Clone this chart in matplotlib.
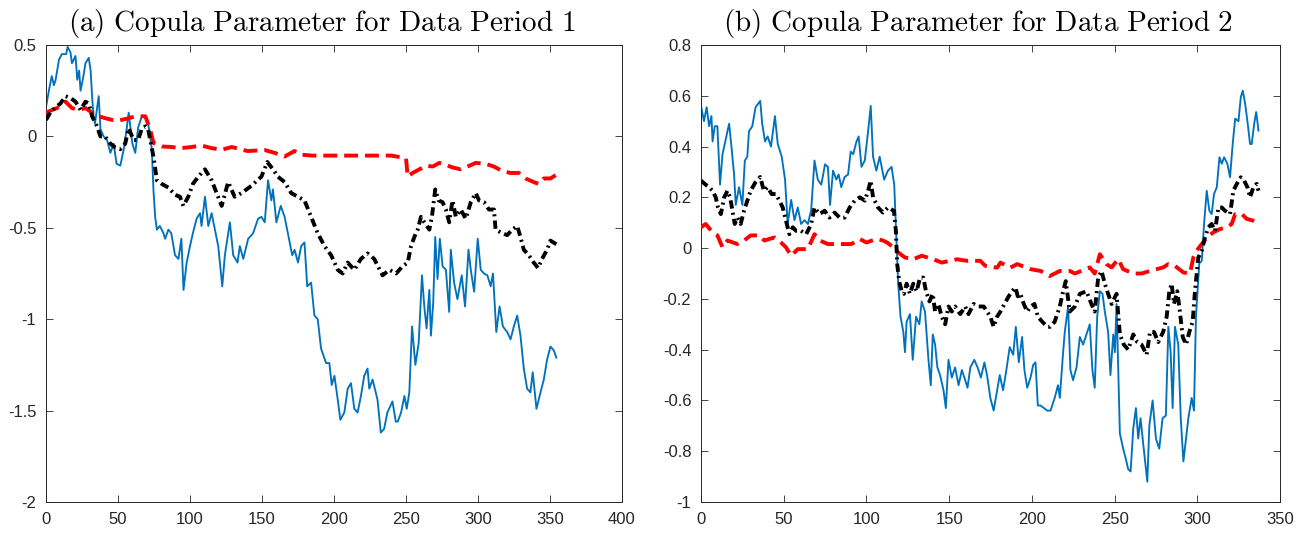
import matplotlib
matplotlib.use("Agg")
import matplotlib.pyplot as plt

plt.rcParams['font.family'] = ['Liberation Sans', 'DejaVu Sans']
plt.rcParams['mathtext.fontset'] = 'cm'
plt.rcParams['lines.scale_dashes'] = False

# ---------------- Data Period 1 ----------------
p1_blue_t = [0, 2, 4, 5.5, 6.7, 9, 11, 14, 15, 17, 18, 20.5, 21.7, 23, 24, 26, 27.4, 29.7, 31, 32, 33, 34,
             36.6, 37.8, 40, 42.4, 44.7, 47, 49, 51.6, 54, 56, 57.4, 60, 62, 64, 66.6, 69, 71, 73.5, 74.6,
             75.8, 77, 79, 81.6, 82.7, 85, 87, 89.6, 92, 94, 95.5, 97.7, 100, 102, 104.6, 107, 108, 110.4,
             112.7, 115, 117.3, 119.6, 122.4, 124.2, 127.7, 130, 133, 134.6, 137, 140.4, 143.8, 147.3, 149.6,
             151.9, 154.2, 156.5, 157.6, 160, 163, 165.7, 168, 171, 172.6, 175, 177.2, 179.5, 181.4, 184.1,
             186.4, 188.7, 191, 194.5, 196.8, 198.4, 200.3, 202.6, 204.4, 207.2, 209.5, 211.8, 214.1, 216.4,
             218.7, 221, 223.3, 224.5, 226.8, 230.2, 232.5, 234.8, 237.1, 240.6, 242.9, 244.3, 246.6, 248.9,
             250.5, 252.3, 254.2, 256.5, 258.8, 261.1, 262.7, 264.3, 266.2, 267.3, 268.9, 270.3, 271.9, 273.5,
             275.4, 277.7, 280, 281.1, 283.4, 285.7, 288.7, 291, 293.4, 295, 297.3, 299.8, 301.9, 304.2, 306.5,
             308.8, 310.4, 312.7, 315, 317.3, 320.3, 322.6, 324.9, 327.2, 329.5, 331.8, 334.1, 336.4, 338,
             340.6, 343.4, 345.7, 348, 350.3, 352.6, 354.4]
p1_blue_v = [0.16, 0.25, 0.33, 0.28, 0.31, 0.42, 0.45, 0.45, 0.49, 0.46, 0.40, 0.44, 0.31, 0.36, 0.25, 0.33, 0.40,
             0.43, 0.36, 0.22, 0.11, 0.07, 0.22, 0.04, 0.0, -0.02, -0.09, -0.04, -0.15, -0.16, -0.07, 0.04,
             0.13, -0.04, -0.09, 0.05, 0.11, 0.11, 0.07, -0.07, -0.29, -0.44, -0.51, -0.49, -0.53, -0.56,
             -0.51, -0.53, -0.65, -0.67, -0.56, -0.84, -0.69, -0.60, -0.53, -0.45, -0.42, -0.49, -0.33, -0.49,
             -0.42, -0.51, -0.60, -0.82, -0.65, -0.47, -0.65, -0.69, -0.60, -0.67, -0.56, -0.53, -0.45, -0.44,
             -0.47, -0.24, -0.35, -0.29, -0.47, -0.38, -0.44, -0.53, -0.65, -0.62, -0.69, -0.60, -0.58, -0.82,
             -0.80, -0.98, -1.00, -1.16, -1.24, -1.24, -1.36, -1.31, -1.44, -1.55, -1.51, -1.38, -1.35, -1.49,
             -1.51, -1.42, -1.31, -1.27, -1.38, -1.33, -1.44, -1.62, -1.60, -1.51, -1.45, -1.56, -1.56, -1.51,
             -1.42, -1.49, -1.40, -1.04, -1.25, -1.13, -0.76, -0.93, -1.05, -0.84, -1.09, -0.91, -0.55, -0.78,
             -0.56, -0.71, -0.73, -0.96, -0.62, -0.80, -0.89, -0.76, -0.93, -0.62, -0.73, -0.85, -0.56, -0.73,
             -0.75, -0.76, -0.82, -0.75, -1.07, -0.93, -1.04, -1.07, -1.11, -1.04, -0.98, -1.09, -1.27, -1.38,
             -1.40, -1.29, -1.49, -1.40, -1.33, -1.22, -1.15, -1.17, -1.21]

p1_black_t = [0, 3, 6.7, 10, 13.6, 17, 20.5, 24, 27.4, 29.7, 32, 35.5, 37.8, 41, 44.7, 48, 51.6, 55, 57.4, 60.8,
              64, 66.6, 69, 71, 74.6, 77, 80.4, 85, 89.6, 93, 95.4, 98.8, 102, 105.8, 110.4, 115, 118.5, 122,
              126.5, 131, 135.8, 142.7, 149.6, 153.7, 157.6, 161, 165.7, 170.3, 174.9, 179.5, 184.1, 188.7,
              193.4, 198, 202.6, 206, 209.5, 214.1, 218.7, 223.3, 227.9, 233.7, 238.5, 243.1, 247.7, 251.2,
              253.5, 255.8, 258.1, 260.4, 262.7, 266.2, 268, 270.3, 272.6, 275.4, 277.7, 280, 282.3, 284.6,
              288, 291.5, 295, 298.4, 300.7, 304.2, 307.6, 311.1, 312.2, 316.9, 320.3, 323.8, 327.2, 329.5,
              331.8, 335.3, 338.7, 341.7, 344.5, 348, 350.3, 354.4]
p1_black_v = [0.09, 0.13, 0.16, 0.18, 0.22, 0.21, 0.19, 0.145, 0.19, 0.18, 0.11, 0.055, 0.0, 0.0, -0.04, -0.06,
              -0.07, -0.04, 0.045, -0.02, -0.02, 0.045, 0.055, 0.036, -0.11, -0.24, -0.26, -0.28, -0.32, -0.33,
              -0.38, -0.33, -0.26, -0.22, -0.18, -0.24, -0.31, -0.38, -0.25, -0.33, -0.31, -0.27, -0.22, -0.14,
              -0.18, -0.22, -0.25, -0.31, -0.33, -0.35, -0.44, -0.53, -0.60, -0.65, -0.73, -0.75, -0.69, -0.73,
              -0.67, -0.64, -0.67, -0.76, -0.73, -0.75, -0.71, -0.69, -0.60, -0.55, -0.51, -0.44, -0.47, -0.51,
              -0.44, -0.29, -0.35, -0.36, -0.40, -0.47, -0.35, -0.44, -0.40, -0.45, -0.36, -0.31, -0.35, -0.36,
              -0.40, -0.40, -0.51, -0.53, -0.54, -0.51, -0.49, -0.55, -0.62, -0.65, -0.69, -0.72, -0.67, -0.62,
              -0.57, -0.59]

p1_red_t = [0, 4.4, 9, 13.6, 18, 23, 27.4, 32, 36.6, 41, 46, 50.5, 55, 60, 64, 69, 72.4, 74.6, 80.4, 87, 94,
            101, 108, 115, 122, 129, 140, 152, 158.8, 165.7, 172.6, 177, 185, 200, 220, 240, 250, 251.2, 254.6,
            259.3, 263.9, 268.5, 273.1, 277.7, 282.3, 288, 292.7, 298.4, 305.3, 311.1, 316.9, 322.6, 328.4, 333,
            338.7, 342.2, 345.7, 350.3, 354.4]
p1_red_v = [0.13, 0.145, 0.16, 0.19, 0.155, 0.145, 0.155, 0.13, 0.11, 0.10, 0.09, 0.087, 0.095, 0.105, 0.11, 0.11,
            0.036, -0.036, -0.055, -0.058, -0.064, -0.058, -0.05, -0.064, -0.073, -0.058, -0.08, -0.075, -0.09,
            -0.11, -0.08, -0.10, -0.105, -0.105, -0.105, -0.105, -0.12, -0.22, -0.20, -0.18, -0.16, -0.165,
            -0.145, -0.155, -0.17, -0.18, -0.165, -0.145, -0.15, -0.165, -0.19, -0.20, -0.20, -0.23, -0.25,
            -0.26, -0.23, -0.23, -0.21]

# ---------------- Data Period 2 ----------------
p2_blue_t = [0, 1.8, 3.4, 4.9, 6.3, 7, 8.3, 9.9, 11.5, 13, 15, 17, 18.4, 20, 21, 23, 25, 26.5, 28, 29, 31, 33,
             35.8, 37, 38.7, 40.3, 42.3, 44.7, 46.4, 48.8, 50.8, 52.4, 54.5, 56.5, 58.5, 60.5, 62.6, 64.6, 66.6,
             68.6, 70.6, 72.7, 75, 76.7, 78, 79.8, 81.8, 83.2, 84.8, 86.8, 88.9, 90.5, 92, 94, 95.3, 97, 99, 101,
             102.6, 104, 106, 108, 110.7, 113, 115.2, 116.8, 118.2, 119.2, 120.6, 122.3, 123.3, 124.3, 126.3,
             128, 130, 132, 133.4, 135.4, 137.5, 138.9, 140.1, 141.5, 142.9, 144.5, 146.6, 148, 149.6, 151.6,
             153.6, 155.7, 157.7, 159.7, 161.1, 162.8, 165.2, 167.2, 169.2, 171.3, 172.9, 174.9, 176.9, 179,
             180.6, 182.6, 184.6, 186.6, 188.7, 190.3, 192.1, 194.1, 195.5, 197.2, 199.2, 200.8, 202.2, 203.6,
             205.3, 207.3, 209.3, 211.3, 213.8, 215.8, 216.9, 218.9, 219.9, 221.9, 223.3, 224.9, 227, 229, 231,
             233, 235, 236.6, 238, 239.5, 241.1, 242.7, 244.1, 246.1, 247.5, 249.2, 250.2, 251.2, 253.2, 255.2,
             256.8, 258.2, 259.7, 261.3, 262.9, 264.3, 265.7, 267.3, 269.8, 271, 273, 275, 277, 279, 281, 282.5,
             283.9, 285.1, 286.5, 288.5, 290, 291.6, 293.2, 294.6, 296.6, 298, 299.2, 301.2, 302.7, 304.1,
             305.7, 307.3, 308.7, 310.1, 311.8, 313.4, 314.8, 316.2, 318.2, 319.8, 321.4, 322.9, 324.9, 326.3,
             327.5, 328.9, 330.3, 331.9, 332.9, 334.4, 335.6, 337]
p2_blue_v = [0.56, 0.50, 0.555, 0.48, 0.52, 0.42, 0.48, 0.48, 0.25, 0.37, 0.43, 0.49, 0.40, 0.29, 0.17, 0.24, 0.17,
             0.345, 0.36, 0.46, 0.48, 0.555, 0.58, 0.49, 0.42, 0.44, 0.40, 0.52, 0.41, 0.36, 0.27, 0.095, 0.19,
             0.11, 0.16, 0.095, 0.11, 0.095, 0.15, 0.345, 0.27, 0.25, 0.33, 0.32, 0.17, 0.305, 0.27, 0.29, 0.24,
             0.28, 0.29, 0.38, 0.37, 0.42, 0.44, 0.32, 0.345, 0.46, 0.56, 0.36, 0.305, 0.36, 0.27, 0.305, 0.32,
             0.25, 0.016, -0.14, -0.27, -0.33, -0.41, -0.29, -0.26, -0.44, -0.27, -0.30, -0.21, -0.25, -0.44,
             -0.54, -0.34, -0.38, -0.47, -0.50, -0.56, -0.63, -0.44, -0.51, -0.47, -0.54, -0.48, -0.52, -0.55,
             -0.47, -0.44, -0.47, -0.51, -0.45, -0.50, -0.59, -0.64, -0.56, -0.50, -0.56, -0.48, -0.39, -0.42,
             -0.31, -0.45, -0.35, -0.48, -0.55, -0.51, -0.46, -0.45, -0.62, -0.62, -0.63, -0.64, -0.64, -0.59,
             -0.54, -0.59, -0.41, -0.33, -0.23, -0.48, -0.52, -0.47, -0.35, -0.38, -0.34, -0.30, -0.48, -0.55,
             -0.27, -0.17, -0.18, -0.25, -0.33, -0.50, -0.34, -0.41, -0.22, -0.73, -0.79, -0.83, -0.87, -0.88,
             -0.71, -0.63, -0.75, -0.67, -0.77, -0.92, -0.70, -0.60, -0.75, -0.79, -0.67, -0.66, -0.31, -0.41,
             -0.63, -0.31, -0.38, -0.67, -0.84, -0.75, -0.67, -0.59, -0.64, -0.27, -0.06, -0.05, 0.095, 0.226,
             0.147, 0.134, 0.213, 0.24, 0.358, 0.332, 0.358, 0.332, 0.279, 0.41, 0.51, 0.50, 0.595, 0.62, 0.57,
             0.50, 0.41, 0.41, 0.49, 0.536, 0.463]

p2_black_t = [0, 2.8, 4.9, 7, 8.9, 10.3, 12, 14, 16, 17.6, 19, 20.4, 22, 24, 26, 28, 30, 33, 35.8, 38, 40.3, 42.7,
              45.3, 47.4, 49.4, 51.4, 53.4, 55.5, 57.5, 60.5, 63.6, 66.6, 68.6, 71.7, 74.7, 77.7, 80.8, 83.8,
              86.8, 89.9, 92.9, 96, 99, 101, 102.6, 104, 107, 110, 113, 116.6, 117.8, 118.6, 119.8, 121.3, 122.7,
              124.3, 126.3, 128.3, 130.4, 132.4, 134.4, 136, 138.1, 140.1, 141.5, 143.5, 145.5, 147.6, 149.6,
              151.6, 153.6, 156.7, 159.7, 161.7, 164.8, 167.8, 170.9, 172.9, 174.9, 176.9, 179, 181, 183.4, 186,
              188, 190.1, 191.5, 193.1, 195.1, 197.2, 199.2, 201.6, 203.6, 206.3, 209.3, 211, 213.8, 216.9, 218.9,
              220.5, 222.9, 226, 229, 233, 236, 238, 240.1, 242.1, 244.1, 246.1, 248.2, 251.2, 253.2, 255.6,
              258.2, 261.3, 263.7, 266.3, 269.4, 271.4, 273.8, 276.4, 279.4, 281.5, 283.1, 284.5, 285.9, 287.9,
              289.5, 291.2, 293.2, 295.2, 297.2, 298.6, 300.6, 302.7, 304.7, 306.7, 308.7, 310.7, 312.8, 314.8,
              316.8, 319.8, 321.8, 323.9, 326.3, 328.3, 330.3, 331.9, 333.9, 335.9, 337]
p2_black_v = [0.266, 0.25, 0.24, 0.226, 0.20, 0.16, 0.134, 0.20, 0.226, 0.20, 0.147, 0.095, 0.12, 0.095, 0.147,
              0.187, 0.226, 0.26, 0.28, 0.226, 0.24, 0.213, 0.213, 0.187, 0.16, 0.108, 0.055, 0.082, 0.068, 0.068,
              0.055, 0.095, 0.16, 0.134, 0.147, 0.12, 0.14, 0.12, 0.12, 0.16, 0.187, 0.20, 0.187, 0.226, 0.266,
              0.20, 0.16, 0.14, 0.16, 0.147, 0.068, -0.063, -0.13, -0.17, -0.18, -0.14, -0.18, -0.14, -0.17,
              -0.116, -0.116, -0.17, -0.21, -0.18, -0.25, -0.22, -0.27, -0.30, -0.23, -0.25, -0.23, -0.26, -0.23,
              -0.26, -0.22, -0.23, -0.23, -0.25, -0.27, -0.31, -0.27, -0.25, -0.22, -0.19, -0.17, -0.155, -0.19,
              -0.18, -0.22, -0.25, -0.23, -0.22, -0.27, -0.29, -0.31, -0.31, -0.29, -0.23, -0.17, -0.13, -0.25,
              -0.23, -0.18, -0.17, -0.22, -0.25, -0.116, -0.09, -0.14, -0.18, -0.22, -0.18, -0.34, -0.38, -0.40,
              -0.34, -0.37, -0.38, -0.42, -0.33, -0.33, -0.37, -0.33, -0.27, -0.17, -0.14, -0.22, -0.17, -0.25,
              -0.35, -0.38, -0.33, -0.29, -0.17, -0.037, -0.01, 0.042, 0.082, 0.095, 0.068, 0.16, 0.16, 0.147,
              0.134, 0.226, 0.253, 0.279, 0.266, 0.24, 0.20, 0.24, 0.253, 0.226]

p2_red_t = [0, 2.8, 7, 9.9, 13, 16, 22, 26, 30, 35.2, 38.3, 44.3, 48.4, 51.4, 54.5, 58.5, 64.6, 68.6, 71.7, 76.7,
            80.8, 86.8, 90.9, 96, 100, 106, 110, 113, 116.2, 119.2, 123.3, 128.3, 133.4, 140.5, 145.5, 154.7,
            160.7, 168.8, 171.9, 179, 181, 187, 191.1, 199.2, 205.3, 210.8, 216.9, 222.9, 226, 235, 238, 241.1,
            245.1, 248.2, 252.2, 255.2, 261.3, 266.3, 271.4, 279.4, 282.5, 286.5, 291.6, 295.6, 297.6, 299.6,
            302.7, 305.7, 309.7, 313.7, 317.8, 320.8, 322.9, 326.9, 329.9, 333.9, 337]
p2_red_v = [0.082, 0.095, 0.062, 0.05, 0.003, 0.03, 0.016, 0.03, 0.05, 0.05, 0.03, 0.042, 0.022, 0.003, -0.03,
            -0.004, -0.004, 0.055, 0.03, 0.016, 0.016, 0.016, 0.016, 0.036, 0.022, 0.036, 0.03, 0.02, 0.003,
            -0.017, -0.037, -0.044, -0.03, -0.044, -0.057, -0.044, -0.05, -0.05, -0.07, -0.077, -0.057, -0.077,
            -0.063, -0.083, -0.09, -0.11, -0.09, -0.09, -0.10, -0.076, -0.10, -0.024, -0.063, -0.076, -0.043,
            -0.083, -0.10, -0.10, -0.09, -0.076, -0.063, -0.07, -0.096, -0.10, -0.037, -0.01, 0.016, 0.042,
            0.062, 0.075, 0.082, 0.095, 0.134, 0.134, 0.115, 0.108, 0.10]

titles = [r'$\mathrm{(a)\ Copula\ Parameter\ for\ Data\ Period\ 1}$',
          r'$\mathrm{(b)\ Copula\ Parameter\ for\ Data\ Period\ 2}$']
x_ticks_1 = [0, 50, 100, 150, 200, 250, 300, 350, 400]
y_ticks_1 = [0.5, 0, -0.5, -1, -1.5, -2]
y_labels_1 = ['0.5', '0', '-0.5', '-1', '-1.5', '-2']
x_ticks_2 = [0, 50, 100, 150, 200, 250, 300, 350]
y_ticks_2 = [0.8, 0.6, 0.4, 0.2, 0, -0.2, -0.4, -0.6, -0.8, -1]
y_labels_2 = ['0.8', '0.6', '0.4', '0.2', '0', '-0.2', '-0.4', '-0.6', '-0.8', '-1']

W, H = 1310, 538
fig = plt.figure(figsize=(W / 100, H / 100), dpi=100)
ax1 = fig.add_axes([46 / W, 1 - 502 / H, 576 / W, 457 / H])
ax2 = fig.add_axes([701 / W, 1 - 502 / H, 579 / W, 457 / H])

BLUE = '#0072BD'
AXC = '#262626'


def draw(ax, bt, bv, kt, kv, rt, rv, xlim, ylim, xt, yt, yl, title):
    ax.plot(bt, bv, color=BLUE, lw=1.35, zorder=2)
    ax.plot(rt, rv, color='#FF0000', lw=2.8, dashes=(10, 5), zorder=3)
    ax.plot(kt, kv, color='black', lw=2.8, dashes=(6, 3, 1.5, 3), zorder=4)
    ax.set_xlim(*xlim)
    ax.set_ylim(*ylim)
    ax.set_xticks(xt)
    ax.set_xticklabels([str(v) for v in xt])
    ax.set_yticks(yt)
    ax.set_yticklabels(yl)
    ax.tick_params(direction='in', top=True, right=True, length=5, width=0.6,
                   colors=AXC, labelsize=12, pad=7)
    for s in ax.spines.values():
        s.set_color(AXC)
        s.set_linewidth(0.7)
    ax.set_title(title, fontsize=21, pad=10, x=0.479)


draw(ax1, p1_blue_t, p1_blue_v, p1_black_t, p1_black_v, p1_red_t, p1_red_v,
     (0, 400), (-2, 0.5), x_ticks_1, y_ticks_1, y_labels_1, titles[0])
draw(ax2, p2_blue_t, p2_blue_v, p2_black_t, p2_black_v, p2_red_t, p2_red_v,
     (0, 350), (-1, 0.8), x_ticks_2, y_ticks_2, y_labels_2, titles[1])

fig.savefig('out.png', dpi=100)
